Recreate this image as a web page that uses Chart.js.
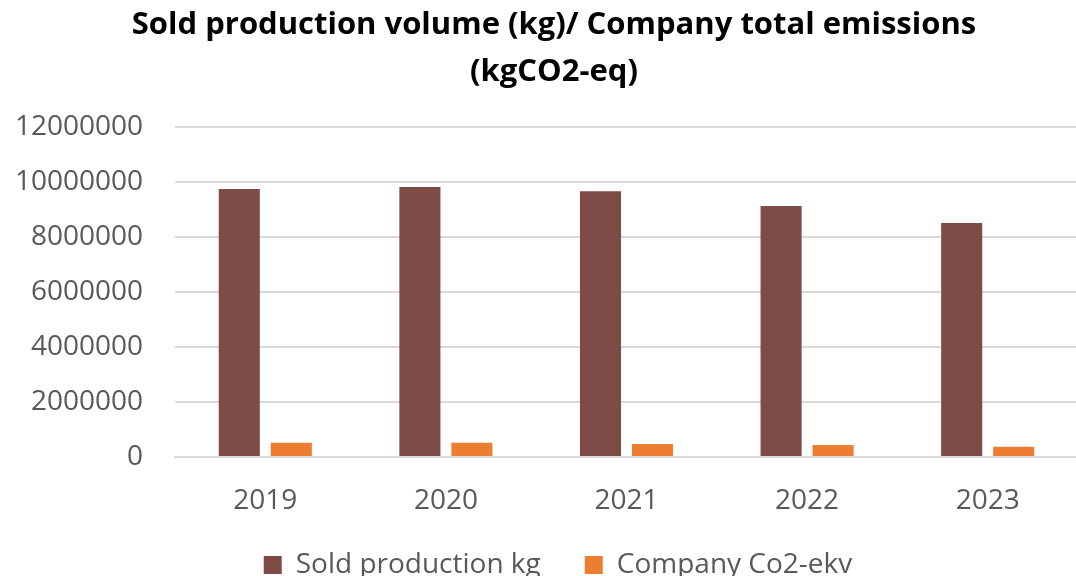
<!DOCTYPE html>
<html>
<head>
<meta charset="utf-8">
<script src="https://cdn.jsdelivr.net/npm/chart.js@4"></script>
<style>
  html, body { margin: 0; padding: 0; background: #fff; overflow: hidden; }
  #wrap { width: 1076px; height: 576px; overflow: hidden; position: relative; }
  #box { position: absolute; left: 0; top: 0; width: 1080px; height: 617px; }
</style>
</head>
<body>
<div id="wrap"><div id="box"><canvas id="myChart"></canvas></div></div>
<script>
// Datos
const years = ["2019", "2020", "2021", "2022", "2023"];
const soldProduction = [9750000, 9820000, 9660000, 9130000, 8510000];
const companyCo2 = [520000, 520000, 470000, 440000, 370000];
const yTicks = [0, 2000000, 4000000, 6000000, 8000000, 10000000, 12000000];

const grey = "#595959";
const tickFont = { family: "'Open Sans', sans-serif", size: 28 };

// Sube la leyenda para que quede pegada a las etiquetas del eje x
const legendShift = {
  id: "legendShift",
  afterLayout(chart) {
    const lg = chart.legend;
    lg.top -= 28; lg.bottom -= 28;
    lg.left += 12; lg.right += 12;
    const tb = chart.titleBlock;
    tb.left += 8; tb.right += 8;
  },
};

function setupChart() {
  const ctx = document.getElementById("myChart").getContext("2d");
  new Chart(ctx, {
    type: "bar",
    data: {
      labels: years,
      datasets: [
        {
          label: "Sold production kg",
          data: soldProduction,
          backgroundColor: "#7F4B47",
          barPercentage: 0.79,
          categoryPercentage: 0.576,
        },
        {
          label: "Company Co2-ekv",
          data: companyCo2,
          backgroundColor: "#ED7D31",
          barPercentage: 0.79,
          categoryPercentage: 0.576,
        },
      ],
    },
    options: {
      responsive: true,
      maintainAspectRatio: false,
      animation: false,
      layout: { padding: { left: 14, right: 2, top: 2, bottom: 0 } },
      plugins: {
        title: {
          display: true,
          text: ["Sold production volume (kg)/ Company total emissions", "(kgCO2-eq)"],
          color: "#000",
          font: { family: "'Open Sans', sans-serif", size: 31, weight: "bold", lineHeight: 1.5 },
          padding: { top: 0, bottom: 32 },
        },
        legend: {
          position: "bottom",
          labels: {
            color: grey,
            font: tickFont,
            boxWidth: 18,
            boxHeight: 18,
            padding: 44,
          },
        },
        tooltip: { enabled: false },
      },
      scales: {
        x: {
          grid: { display: false },
          border: { display: true, color: "#d9d9d9", width: 2 },
          ticks: { color: grey, font: tickFont, padding: 19 },
          afterFit: (axis) => { axis.height = 78; },
        },
        y: {
          min: 0,
          max: 12000000,
          afterBuildTicks: (axis) => { axis.ticks = yTicks.map((v) => ({ value: v })); },
          afterFit: (axis) => { axis.width = 161; },
          grid: { color: "#d9d9d9", lineWidth: 2, drawTicks: false },
          border: { display: false },
          ticks: { color: grey, font: tickFont, padding: 32, callback: (v) => String(v) },
        },
      },
    },
    plugins: [legendShift],
  });
}

setupChart();
</script>
</body>
</html>
